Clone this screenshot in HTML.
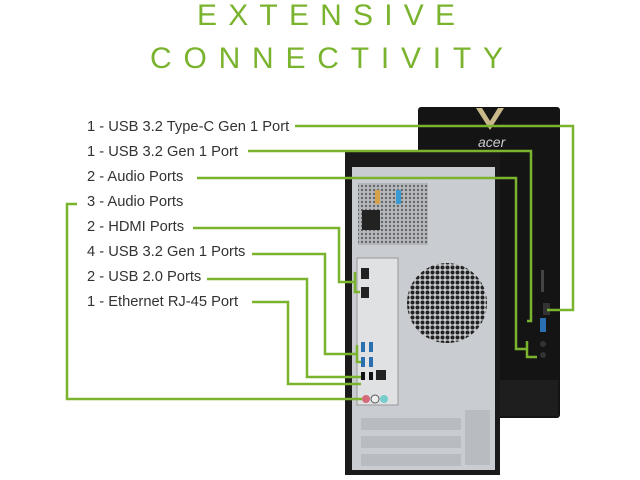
<!DOCTYPE html>
<html><head><meta charset="utf-8"><style>
html,body{margin:0;padding:0;background:#fff;width:640px;height:480px;overflow:hidden}
svg{display:block}
</style></head><body>
<svg width="640" height="480" viewBox="0 0 640 480" xmlns="http://www.w3.org/2000/svg">
<defs>
<pattern id="holes" width="5" height="5" patternUnits="userSpaceOnUse">
<rect width="5" height="5" fill="#c9ccd0"/><circle cx="2.5" cy="2.5" r="2" fill="#222"/>
</pattern>
<pattern id="psu" width="4" height="4" patternUnits="userSpaceOnUse">
<rect width="4" height="4" fill="#b5b8bc"/><circle cx="2" cy="2" r="1.2" fill="#666"/>
</pattern>
</defs>
<g font-family="Liberation Sans, sans-serif" fill="#7ab32e" font-size="30">
<text x="197" y="25" textLength="258" lengthAdjust="spacing">EXTENSIVE</text>
<text x="150" y="68" textLength="353" lengthAdjust="spacing">CONNECTIVITY</text>
</g>
<!-- front case -->
<rect x="418" y="107" width="142" height="311" rx="3" fill="#141414"/>
<rect x="420" y="380" width="138" height="36" fill="#1e1e1e"/>
<path d="M476 108 L490 130 L504 108 L498 108 L490 121 L482 108Z" fill="#c9b98a"/>
<text x="478" y="147" font-family="Liberation Sans, sans-serif" font-style="italic" font-size="14" fill="#ccc">acer</text>
<rect x="541" y="270" width="3" height="22" fill="#444"/>
<rect x="543" y="303" width="7" height="12" fill="#333"/>
<rect x="540" y="318" width="6" height="14" fill="#2a6fb0"/>
<circle cx="543" cy="344" r="3" fill="#333"/><circle cx="543" cy="355" r="3" fill="#333"/>
<!-- back case -->
<rect x="345" y="152" width="155" height="323" fill="#1a1a1a"/>
<rect x="352" y="167" width="143" height="303" fill="#c9ccd0"/>
<rect x="358" y="183" width="70" height="62" fill="url(#psu)"/>
<rect x="362" y="210" width="18" height="20" fill="#222"/>
<rect x="375" y="190" width="5" height="14" fill="#d4a24a"/><rect x="396" y="190" width="5" height="14" fill="#3a9ad4"/>
<rect x="357" y="258" width="41" height="147" fill="#dfe1e3" stroke="#999" stroke-width="1"/>
<circle cx="447" cy="303" r="40" fill="url(#holes)"/>
<rect x="361" y="268" width="8" height="11" fill="#222"/><rect x="361" y="287" width="8" height="11" fill="#222"/>
<rect x="361" y="342" width="4" height="10" fill="#2a6fb0"/><rect x="369" y="342" width="4" height="10" fill="#2a6fb0"/>
<rect x="361" y="357" width="4" height="10" fill="#2a6fb0"/><rect x="369" y="357" width="4" height="10" fill="#2a6fb0"/>
<rect x="361" y="372" width="4" height="8" fill="#111"/><rect x="369" y="372" width="4" height="8" fill="#111"/>
<rect x="376" y="370" width="10" height="10" fill="#222"/>
<circle cx="366" cy="399" r="4" fill="#d46a7a"/><circle cx="375" cy="399" r="4" fill="#eee" stroke="#555"/><circle cx="384" cy="399" r="4" fill="#7cc"/>
<rect x="361" y="418" width="100" height="12" fill="#b8bbbf"/><rect x="361" y="436" width="100" height="12" fill="#b8bbbf"/><rect x="361" y="454" width="100" height="12" fill="#b8bbbf"/>
<rect x="465" y="410" width="25" height="55" fill="#b8bbbf"/>
<!-- labels -->
<g font-family="Liberation Sans, sans-serif" font-size="14.7" fill="#333">
<text x="87" y="131">1 - USB 3.2 Type-C Gen 1 Port</text>
<text x="87" y="156">1 - USB 3.2 Gen 1 Port</text>
<text x="87" y="181">2 - Audio Ports</text>
<text x="87" y="206">3 - Audio Ports</text>
<text x="87" y="231">2 - HDMI Ports</text>
<text x="87" y="256">4 - USB 3.2 Gen 1 Ports</text>
<text x="87" y="281">2 - USB 2.0 Ports</text>
<text x="87" y="306">1 - Ethernet RJ-45 Port</text>
</g>
<g fill="none" stroke="#7ab32e" stroke-width="2.5">
<polyline points="295,126 573,126 573,310 547,310"/>
<polyline points="248,151 531,151 531,321 527,321"/>
<polyline points="197,178 516,178 516,349 527,349"/>
<polyline points="527,341 527,357 537,357 M527,341 537,341"/>
<polyline points="77,204 67,204 67,399 362,399"/>
<polyline points="193,228 339,228 339,282 355,282"/>
<polyline points="355,272 355,292 360,292 M355,272 360,272"/>
<polyline points="252,254 325,254 325,354 357,354"/>
<polyline points="357,345 357,362 361,362 M357,345 361,345"/>
<polyline points="207,279 307,279 307,377 361,377"/>
<polyline points="252,302 288,302 288,384 361,384"/>
</g>
</svg>
</body></html>
